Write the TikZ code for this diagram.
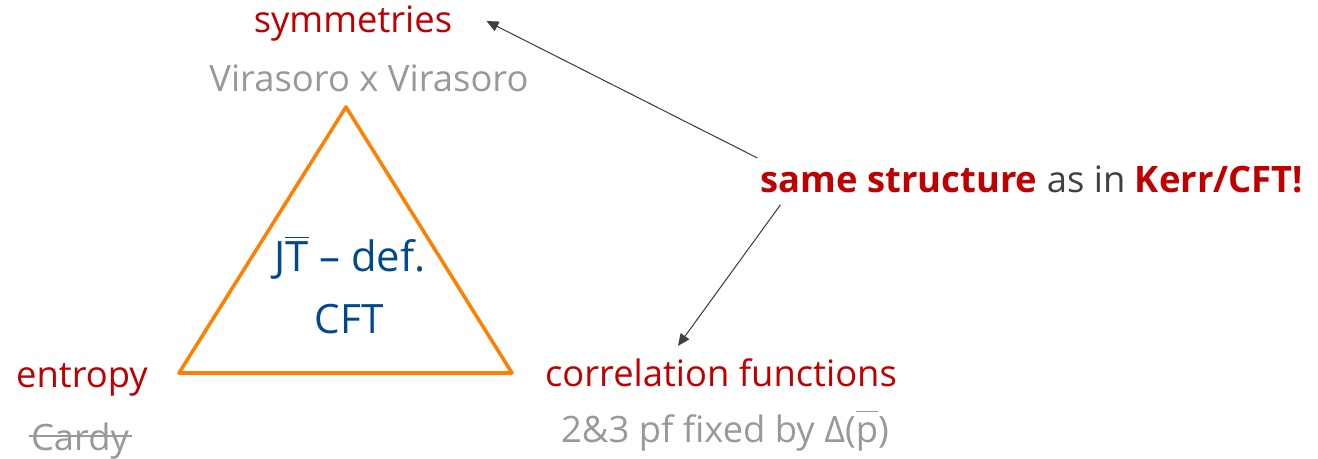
\documentclass[tikz,border=0pt]{standalone}
\usepackage{fontspec}
\setmainfont{Open Sans}
\usepackage{xcolor}
\definecolor{SlideRed}{HTML}{C00000}
\definecolor{SlideGray}{HTML}{999999}
\definecolor{SlideBlue}{HTML}{004A8C}
\definecolor{SlideOrange}{HTML}{FF8000}
\definecolor{SlideDark}{HTML}{404040}
\usetikzlibrary{arrows.meta,positioning,calc}

\begin{document}
\begin{tikzpicture}[>={Triangle[length=3.4pt,width=3pt]}, every node/.style={font=\fontsize{10.35}{12}\selectfont, inner sep=3.3pt, anchor=base},
    topic/.style={text=SlideRed},
    detail/.style={text=SlideGray},
    pointer/.style={->, draw=SlideDark, line width=0.3pt}]
    \useasboundingbox (0,0) rectangle (13.18,-4.59);

    % Triangle
    \coordinate (top) at (3.46,-1.07);
    \coordinate (left) at (1.79,-3.73);
    \coordinate (right) at (5.12,-3.73);
    \draw [SlideOrange, line width=1pt, line join=round] (top) -- (left) -- (right) -- cycle;
    \node [text=SlideBlue, font=\fontsize{11.9}{13}\selectfont] (jtbar) at (3.50,-2.72) {J$\overline{\mbox{T}}$ -- def.};
    \node [text=SlideBlue, font=\fontsize{11.5}{13}\selectfont] (cft) at (3.49,-3.34) {CFT};

    % Corners
    \node [topic] (sym) at (3.53,-0.33) {symmetries};
    \node [detail] (vir) at (3.69,-0.91) {Virasoro x Virasoro};
    \node [topic] (entropy) at (0.82,-3.87) {entropy};
    \node [detail] (cardy) at (0.80,-4.50) {Cardy};
    \draw [SlideGray, line width=0.5pt] ([xshift=2.8pt,yshift=4pt]cardy.base west) -- ([xshift=-2.6pt,yshift=4pt]cardy.base east);
    \node [topic] (corr) at (7.21,-3.86) {correlation functions};
    \node [detail] (pf) at (7.25,-4.43) {2\&3 pf fixed by Δ($\overline{\vphantom{(}\mbox{p}}$)};

    % Remark
    \node [text=SlideDark] (same) at (10.32,-1.92) {\textcolor{SlideRed}{\textbf{same structure}} as in \textcolor{SlideRed}{\textbf{Kerr/CFT!}}};

    % Pointers
    \draw [pointer] ([shift={(0.09,-0.05)}]same.north west) -- ([xshift=0.22cm,yshift=0.03cm]sym.east);
    \draw [pointer] ([xshift=0.32cm]same.south west) -- ([xshift=-0.43cm]corr.north);
\end{tikzpicture}
\end{document}
